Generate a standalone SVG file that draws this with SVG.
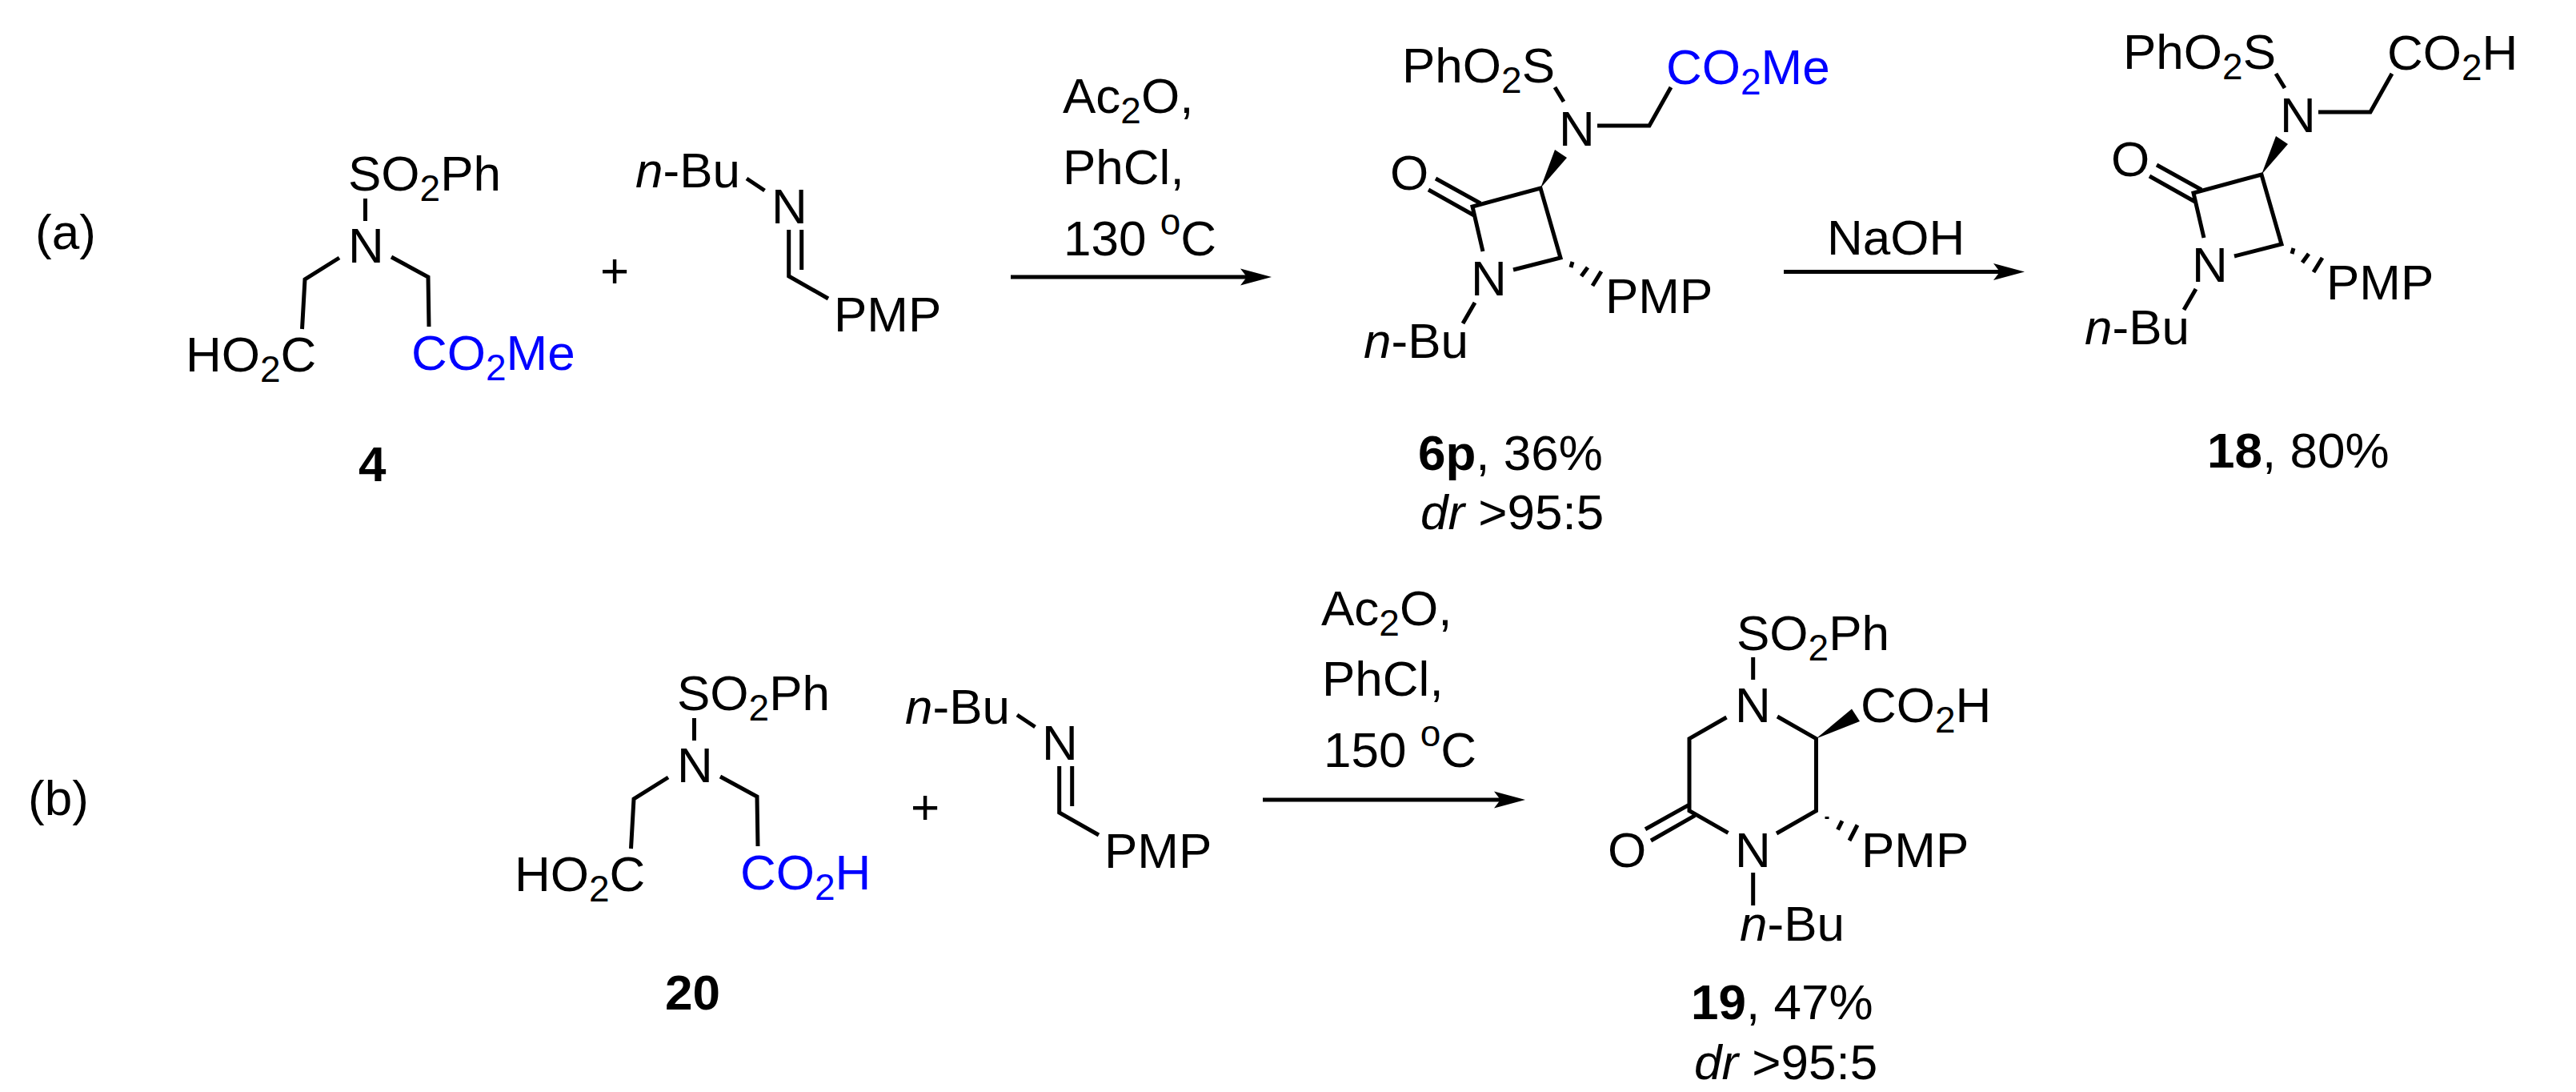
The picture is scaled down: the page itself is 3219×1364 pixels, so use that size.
<svg xmlns="http://www.w3.org/2000/svg" width="3219" height="1364" viewBox="0 0 3219 1364">
<style>
text{font-family:"Liberation Sans",Arial,sans-serif;font-size:62px;fill:#000}
.s{font-size:46px}
.b{font-weight:bold}
.i{font-style:italic}
.blue,.blue tspan{fill:#0000ff}
.bond{fill:none;stroke:#000;stroke-width:5;stroke-linejoin:miter;stroke-linecap:butt}
.arrow{fill:none;stroke:#000;stroke-width:5;marker-end:url(#head)}
</style>
<defs>
<marker id="head" markerUnits="userSpaceOnUse" markerWidth="42" markerHeight="26" refX="8" refY="13" orient="auto" viewBox="0 0 42 26">
<path d="M0 2.5 L39 13 L0 23.5 L8 13 Z" fill="#000"/>
</marker>
</defs>
<rect width="3219" height="1364" fill="#fff"/>

<g id="label-a"><text x="44" y="311">(a)</text></g>
<g id="label-b"><text x="35" y="1018">(b)</text></g>

<g id="compound-4">
<text x="435" y="238">SO<tspan class="s" dy="13">2</tspan><tspan dy="-13">Ph</tspan></text>
<text x="435" y="328">N</text>
<text x="232" y="464">HO<tspan class="s" dy="13">2</tspan><tspan dy="-13">C</tspan></text>
<text x="514" y="462" class="blue">CO<tspan class="s" dy="13">2</tspan><tspan dy="-13">Me</tspan></text>
<text x="448" y="601" class="b">4</text>
<path class="bond" d="M456.5 248V276M424 322L381 349L377.5 411M489 321L535 346L536 408"/>
</g>
<g id="plus-a"><text x="768" y="359" text-anchor="middle">+</text></g>
<g id="imine-a">
<text x="794" y="234"><tspan class="i">n</tspan>-Bu</text>
<text x="964" y="279">N</text>
<text x="1042" y="414">PMP</text>
<path class="bond" d="M933 223L955.5 238M1001.7 287V337M985.7 287V345L1035 373"/>
</g>

<g id="reagents-a">
<text x="1328" y="141">Ac<tspan class="s" dy="13">2</tspan><tspan dy="-13">O,</tspan></text>
<text x="1328" y="230">PhCl,</text>
<text x="1329" y="319">130 <tspan class="s" dy="-26">o</tspan><tspan dy="26">C</tspan></text>
</g>

<g id="compound-6p">
<text x="1752" y="103">PhO<tspan class="s" dy="13">2</tspan><tspan dy="-13">S</tspan></text>
<text x="1948" y="182">N</text>
<text x="2082" y="105" class="blue">CO<tspan class="s" dy="13">2</tspan><tspan dy="-13">Me</tspan></text>
<text x="1737" y="237">O</text>
<text x="1838" y="369">N</text>
<text x="1704" y="447"><tspan class="i">n</tspan>-Bu</text>
<text x="2006" y="391">PMP</text>
<text x="1772" y="587"><tspan class="b">6p</tspan>, 36%</text>
<text x="1775" y="661"><tspan class="i">dr</tspan> &gt;95:5</text>
<path class="bond" d="M1943 109L1954 127M1996 157H2061L2088 109M1853 314L1840 258L1925 235L1950 322L1891 337M1794 223L1850 254M1785 237L1842 269M1843 378L1828 404M1965 327L1963 334M1984 334L1976 345M2001 339L1990 357"/>
<path d="M1925 235L1943 187L1958 197Z" fill="#000"/>
</g>

<g id="reagents-a2"><text x="2283" y="318">NaOH</text></g>

<g id="compound-18">
<text x="2653" y="86">PhO<tspan class="s" dy="13">2</tspan><tspan dy="-13">S</tspan></text>
<text x="2849" y="165">N</text>
<text x="2983" y="87">CO<tspan class="s" dy="13">2</tspan><tspan dy="-13">H</tspan></text>
<text x="2638" y="220">O</text>
<text x="2739" y="352">N</text>
<text x="2605" y="430"><tspan class="i">n</tspan>-Bu</text>
<text x="2907" y="374">PMP</text>
<text x="2758" y="584"><tspan class="b">18</tspan>, 80%</text>
<path class="bond" d="M2844 92L2855 110M2897 140H2962L2989 92M2754 297L2741 241L2826 218L2851 305L2792 320M2695 206L2751 237M2686 220L2743 252M2744 361L2729 387M2866 310L2864 317M2885 317L2877 328M2902 322L2891 340"/>
<path d="M2826 218L2844 170L2859 180Z" fill="#000"/>
</g>

<g id="compound-20">
<text x="846" y="887">SO<tspan class="s" dy="13">2</tspan><tspan dy="-13">Ph</tspan></text>
<text x="846" y="977">N</text>
<text x="643" y="1113">HO<tspan class="s" dy="13">2</tspan><tspan dy="-13">C</tspan></text>
<text x="925" y="1111" class="blue">CO<tspan class="s" dy="13">2</tspan><tspan dy="-13">H</tspan></text>
<text x="831" y="1261" class="b">20</text>
<path class="bond" d="M867.5 897V925M835 971L792 998L788.5 1060M900 970L946 995L947 1057"/>
</g>
<g id="plus-b"><text x="1156" y="1029" text-anchor="middle">+</text></g>
<g id="imine-b">
<text x="1131" y="904"><tspan class="i">n</tspan>-Bu</text>
<text x="1302" y="949">N</text>
<text x="1380" y="1084">PMP</text>
<path class="bond" d="M1271 893L1293.5 908M1339.7 957V1007M1323.7 957V1015L1373 1043"/>
</g>

<g id="reagents-b">
<text x="1651" y="781">Ac<tspan class="s" dy="13">2</tspan><tspan dy="-13">O,</tspan></text>
<text x="1652" y="869">PhCl,</text>
<text x="1654" y="958">150 <tspan class="s" dy="-26">o</tspan><tspan dy="26">C</tspan></text>
</g>

<g id="compound-19">
<text x="2170" y="812">SO<tspan class="s" dy="13">2</tspan><tspan dy="-13">Ph</tspan></text>
<text x="2168" y="902">N</text>
<text x="2325" y="902">CO<tspan class="s" dy="13">2</tspan><tspan dy="-13">H</tspan></text>
<text x="2009" y="1083">O</text>
<text x="2168" y="1083">N</text>
<text x="2174" y="1175"><tspan class="i">n</tspan>-Bu</text>
<text x="2326" y="1083">PMP</text>
<text x="2113" y="1273"><tspan class="b">19</tspan>, 47%</text>
<text x="2117" y="1348"><tspan class="i">dr</tspan> &gt;95:5</text>
<path class="bond" d="M2190.7 821V849M2157.5 896L2111 922.6V1012.7L2159.5 1040.4M2221 895L2269.5 922.6V1012.7L2220 1041M2110 1005.6L2056 1035.7M2118 1018.7L2063 1050M2190.7 1090V1131M2283 1020V1023M2302 1025.4L2296.5 1036.4M2321 1030.5L2311 1050"/>
<path d="M2269.5 922.6L2314 885.5L2324 901Z" fill="#000"/>
</g>

<g id="connectors">
<line class="arrow" x1="1263" y1="346" x2="1558" y2="346"/>
<line class="arrow" x1="2229" y1="339.5" x2="2499" y2="339.5"/>
<line class="arrow" x1="1578" y1="999" x2="1875" y2="999"/>
</g>
</svg>
